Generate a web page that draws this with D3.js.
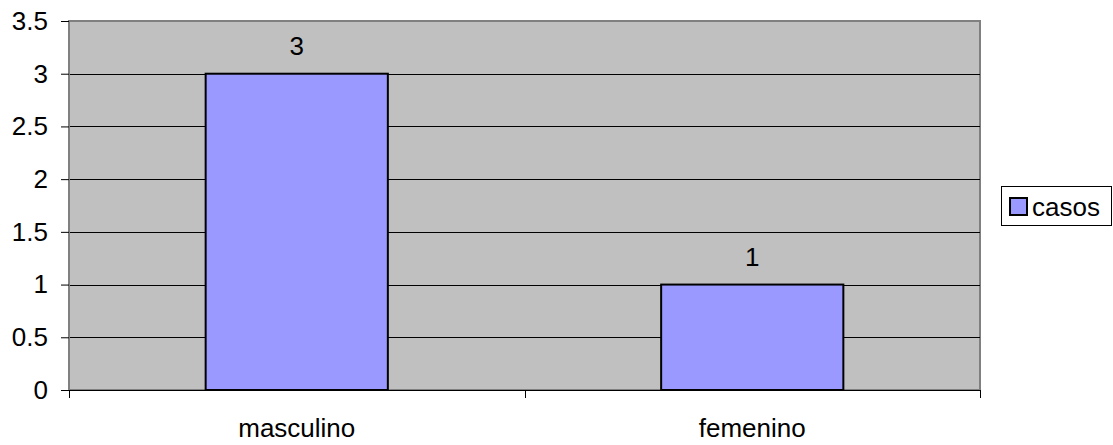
<!DOCTYPE html>
<html>
<head>
<meta charset="utf-8">
<script src="https://cdn.jsdelivr.net/npm/d3@7"></script>
<style>
  html, body { margin: 0; padding: 0; background: #ffffff; }
  svg { display: block; }
  text { font-family: "Liberation Sans", Arial, sans-serif; fill: #000; }
</style>
</head>
<body>
<svg id="chart" width="1113" height="445"></svg>
<script>
// Cases by sex
const categories = ["masculino", "femenino"];
const casos = [3, 1];
const yTicks = [0, 0.5, 1, 1.5, 2, 2.5, 3, 3.5];
const seriesName = "casos";

const svg = d3.select("#chart");
const plot = { left: 69, right: 980, top: 21, bottom: 390 };
const fontSize = 26;

const x = d3.scaleBand()
  .domain(categories)
  .range([plot.left, plot.right])
  .paddingInner(0.6)
  .paddingOuter(0.3);

const y = d3.scaleLinear()
  .domain([0, 3.5])
  .range([plot.bottom, plot.top]);

// Plot background
svg.append("rect")
  .attr("x", plot.left).attr("y", plot.top)
  .attr("width", plot.right - plot.left)
  .attr("height", plot.bottom - plot.top)
  .attr("fill", "#c0c0c0")
  .attr("stroke", "#808080")
  .attr("stroke-width", 2);

// Horizontal gridlines
svg.append("g")
  .selectAll("line")
  .data(yTicks.filter(d => d > 0 && d < 3.5))
  .join("line")
  .attr("x1", plot.left).attr("x2", plot.right)
  .attr("y1", d => Math.round(y(d)) + 0.5)
  .attr("y2", d => Math.round(y(d)) + 0.5)
  .attr("stroke", "#000")
  .attr("stroke-width", 1);

// Bars
svg.append("g")
  .selectAll("rect")
  .data(categories.map((c, i) => ({ c, v: casos[i] })))
  .join("rect")
  .attr("x", d => x(d.c))
  .attr("y", d => y(d.v))
  .attr("width", x.bandwidth())
  .attr("height", d => y(0) - y(d.v))
  .attr("fill", "#9999ff")
  .attr("stroke", "#000")
  .attr("stroke-width", 2);

// Value labels
svg.append("g")
  .selectAll("text")
  .data(categories.map((c, i) => ({ c, v: casos[i] })))
  .join("text")
  .attr("x", d => x(d.c) + x.bandwidth() / 2)
  .attr("y", d => y(d.v) - 19)
  .attr("text-anchor", "middle")
  .attr("font-size", fontSize)
  .text(d => d.v);

// Y axis
const yAxis = d3.axisLeft(y)
  .tickValues(yTicks)
  .tickSize(8)
  .tickSizeOuter(0)
  .tickPadding(13)
  .tickFormat(d => String(d));

const gy = svg.append("g")
  .attr("transform", `translate(${plot.left},0)`)
  .call(yAxis);
gy.select(".domain").attr("stroke", "#808080").attr("stroke-width", 1);
gy.selectAll(".tick line").attr("stroke", "#000");
gy.selectAll(".tick text")
  .attr("font-size", fontSize)
  .attr("font-family", "Liberation Sans, Arial, sans-serif")
  .attr("fill", "#000");

// X axis: ticks sit on category boundaries
const gx = svg.append("g")
  .attr("transform", `translate(0,${plot.bottom})`);
gx.append("line")
  .attr("x1", plot.left).attr("x2", plot.right)
  .attr("y1", 0.5).attr("y2", 0.5)
  .attr("stroke", "#000");
const step = (plot.right - plot.left) / categories.length;
const boundaries = d3.range(categories.length + 1).map(i => plot.left + i * step);
gx.selectAll("line.tick")
  .data(boundaries)
  .join("line")
  .attr("class", "tick")
  .attr("x1", d => Math.round(d) + 0.5).attr("x2", d => Math.round(d) + 0.5)
  .attr("y1", 0).attr("y2", 8)
  .attr("stroke", "#000");
gx.selectAll("text")
  .data(categories)
  .join("text")
  .attr("x", d => x(d) + x.bandwidth() / 2)
  .attr("y", 47)
  .attr("text-anchor", "middle")
  .attr("font-size", fontSize)
  .text(d => d);

// Legend
const legend = svg.append("g").attr("transform", "translate(1001,186)");
legend.append("rect")
  .attr("x", 0.5).attr("y", 0.5)
  .attr("width", 110).attr("height", 39)
  .attr("fill", "#fff")
  .attr("stroke", "#000")
  .attr("stroke-width", 1);
legend.append("rect")
  .attr("x", 9).attr("y", 12)
  .attr("width", 17).attr("height", 17)
  .attr("fill", "#9999ff")
  .attr("stroke", "#000")
  .attr("stroke-width", 2);
legend.append("text")
  .attr("x", 31).attr("y", 30)
  .attr("font-size", fontSize)
  .text(seriesName);
</script>
</body>
</html>
